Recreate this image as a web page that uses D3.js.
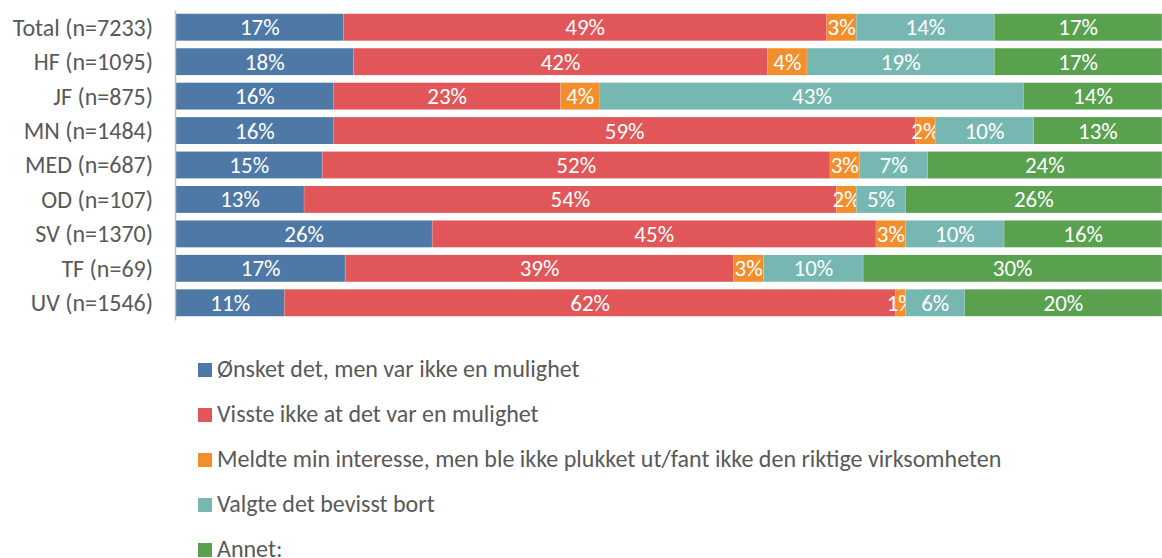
<!DOCTYPE html>
<html>
<head>
<meta charset="utf-8">
<script src="https://cdn.jsdelivr.net/npm/d3@7"></script>
<style>
  html, body { margin: 0; padding: 0; background: #fff; }
  svg { display: block; }
</style>
</head>
<body>
<svg id="chart" width="1162" height="558"></svg>
<script>
// Categories (faculties) and answer groups
const categories = ["Total (n=7233)", "HF (n=1095)", "JF (n=875)", "MN (n=1484)", "MED (n=687)",
                    "OD (n=107)", "SV (n=1370)", "TF (n=69)", "UV (n=1546)"];
const seriesNames = [
  "Ønsket det, men var ikke en mulighet",
  "Visste ikke at det var en mulighet",
  "Meldte min interesse, men ble ikke plukket ut/fant ikke den riktige virksomheten",
  "Valgte det bevisst bort",
  "Annet:"
];
// Percent per category, one array per answer group
const onsket  = [17, 18, 16, 16, 15, 13, 26, 17, 11];
const visste  = [49, 42, 23, 59, 52, 54, 45, 39, 62];
const meldte  = [ 3,  4,  4,  2,  3,  2,  3,  3,  1];
const valgte  = [14, 19, 43, 10,  7,  5, 10, 10,  6];
const annet   = [17, 17, 14, 13, 24, 26, 16, 30, 20];
const colors = ["#4e79a7", "#e15759", "#f28e2b", "#76b7b2", "#59a14f"];

(function () {
  const seriesValues = [onsket, visste, meldte, valgte, annet];
  const keys = d3.range(seriesNames.length).map(String);
  const rows = categories.map((c, i) => {
    const r = { cat: c };
    seriesValues.forEach((arr, k) => r[k] = arr[i]);
    return r;
  });

  const svg = d3.select("#chart");
  const fontFam = "Carlito, Calibri, 'Open Sans', 'Liberation Sans', sans-serif";
  const m = { left: 176, right: 1162, top: 10, bottom: 320 };

  const x = d3.scaleLinear().domain([0, 1]).range([m.left, m.right]);
  const y = d3.scaleBand().domain(categories).range([m.top, m.bottom])
    .paddingInner(0.22).paddingOuter(0.11);

  const stacked = d3.stack().keys(keys).offset(d3.stackOffsetExpand)(rows);

  const layers = svg.append("g").selectAll("g.layer").data(stacked).join("g")
    .attr("class", "layer")
    .attr("fill", (d, i) => colors[i]);

  layers.selectAll("rect").data(d => d.map(p => ({ p, key: d.key }))).join("rect")
    .attr("x", d => x(d.p[0]))
    .attr("y", d => y(d.p.data.cat))
    .attr("width", d => x(d.p[1]) - x(d.p[0]))
    .attr("height", y.bandwidth());

  // Thin light separators between segments
  layers.selectAll("line.sep").data(d => d.map(p => p)).join("line")
    .attr("class", "sep")
    .attr("x1", d => x(d[1])).attr("x2", d => x(d[1]))
    .attr("y1", d => y(d.data.cat)).attr("y2", d => y(d.data.cat) + y.bandwidth())
    .attr("stroke", "rgba(255,255,255,0.35)").attr("stroke-width", 1);

  // Value labels
  layers.selectAll("text").data(d => d.map(p => ({ p, key: d.key }))).join("text")
    .attr("x", d => (x(d.p[0]) + x(d.p[1])) / 2)
    .attr("y", d => y(d.p.data.cat) + y.bandwidth() / 2)
    .attr("dy", "0.35em")
    .attr("text-anchor", "middle")
    .attr("fill", "#fff")
    .attr("font-family", fontFam)
    .attr("font-size", 23)
    .text(d => d.p.data[d.key] + "%");

  // Category axis
  const ax = svg.append("g").attr("transform", `translate(${m.left - 1},0)`)
    .call(d3.axisLeft(y).tickSize(0).tickPadding(22));
  ax.select(".domain").attr("stroke", "#bfbfbf").attr("stroke-width", 1.5);
  ax.selectAll("text")
    .attr("font-family", fontFam)
    .attr("font-size", 24)
    .attr("fill", "#595959")
    .attr("dy", "0.35em");

  // Legend
  const legend = svg.append("g").attr("transform", "translate(198,363)");
  const item = legend.selectAll("g").data(seriesNames).join("g")
    .attr("transform", (d, i) => `translate(0,${i * 45})`);
  item.append("rect").attr("width", 14).attr("height", 14).attr("fill", (d, i) => colors[i]);
  item.append("text")
    .attr("x", 19).attr("y", 14)
    .attr("font-family", fontFam)
    .attr("font-size", 24)
    .attr("fill", "#595959")
    .text(d => d);
})();
</script>
</body>
</html>
